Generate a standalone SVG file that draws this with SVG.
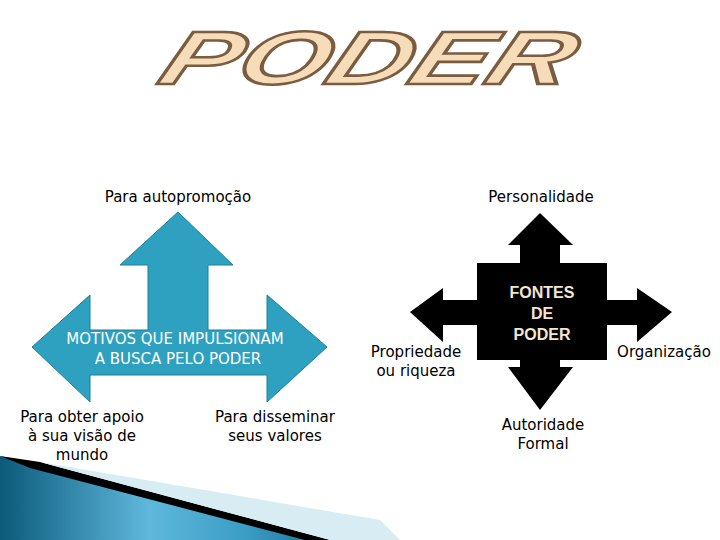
<svg xmlns="http://www.w3.org/2000/svg" width="720" height="540" viewBox="0 0 720 540">
<defs>
<linearGradient id="sw" x1="0" y1="0" x2="1" y2="0">
<stop offset="0" stop-color="#0b5a7a"/><stop offset="0.45" stop-color="#5fb8dc"/><stop offset="0.75" stop-color="#3a9cc4"/><stop offset="1" stop-color="#1a6f94"/>
</linearGradient>
<style>
text{font-family:"DejaVu Sans",Verdana,sans-serif;font-size:15px;fill:#000;text-anchor:middle}
.w{fill:#fff}
.b{font-family:"Liberation Sans",Arial,sans-serif;font-weight:bold;fill:#f3e6d4;font-size:16px}
.t{font-family:"Liberation Sans",Arial,sans-serif;font-weight:bold;font-style:italic;font-size:72px;fill:#f6dcb8;stroke:#7a5c40;stroke-width:2.5;text-anchor:start}
</style>
</defs>
<rect width="720" height="540" fill="#fff"/>
<g id="deco">
<polygon points="0,456 60,470 330,540 0,540" fill="url(#sw)"/>
<polygon points="0,456 40,462 330,540 305,540 30,468" fill="#000"/>
<polygon points="40,462 380,520 400,540 330,540" fill="#d8ecf3"/>
</g>
<g id="title"><text class="t" x="0" y="0" transform="translate(155,84) scale(1.3,1.05) skewX(-18)" textLength="315" lengthAdjust="spacingAndGlyphs">PODER</text></g>
<g id="motivos">
<polygon points="178,212 233,265 208,265 208,330 267,330 267,295 327,347 267,402 267,375 90,375 90,402 32,347 90,295 90,330 148,330 148,265 120,265" fill="#2da1bf" stroke="#1d7f99" stroke-width="1"/>
<text class="w" x="175" y="344">MOTIVOS QUE IMPULSIONAM</text>
<text class="w" x="178" y="364">A BUSCA PELO PODER</text>
</g>
<g id="fontes">
<polygon points="540,213 573,245 560,245 560,263 607,263 607,300 637,300 637,288 672,312 637,342 637,325 607,325 607,360 560,360 560,367 573,367 540,410 508,367 520,367 520,360 477,360 477,325 443,325 443,342 410,312 443,288 443,300 477,300 477,263 520,263 520,245 508,245" fill="#000"/>
<text class="b" x="542" y="298">FONTES</text>
<text class="b" x="542" y="319">DE</text>
<text class="b" x="542" y="340">PODER</text>
</g>
<g id="labels">
<text x="178" y="202">Para autopromoção</text>
<text x="541" y="202">Personalidade</text>
<text x="82" y="422">Para obter apoio</text>
<text x="82" y="441">à sua visão de</text>
<text x="82" y="460">mundo</text>
<text x="275" y="422">Para disseminar</text>
<text x="275" y="441">seus valores</text>
<text x="416" y="357">Propriedade</text>
<text x="416" y="376">ou riqueza</text>
<text x="664" y="357">Organização</text>
<text x="543" y="430">Autoridade</text>
<text x="543" y="449">Formal</text>
</g>
<g id="connectors"/>
</svg>
